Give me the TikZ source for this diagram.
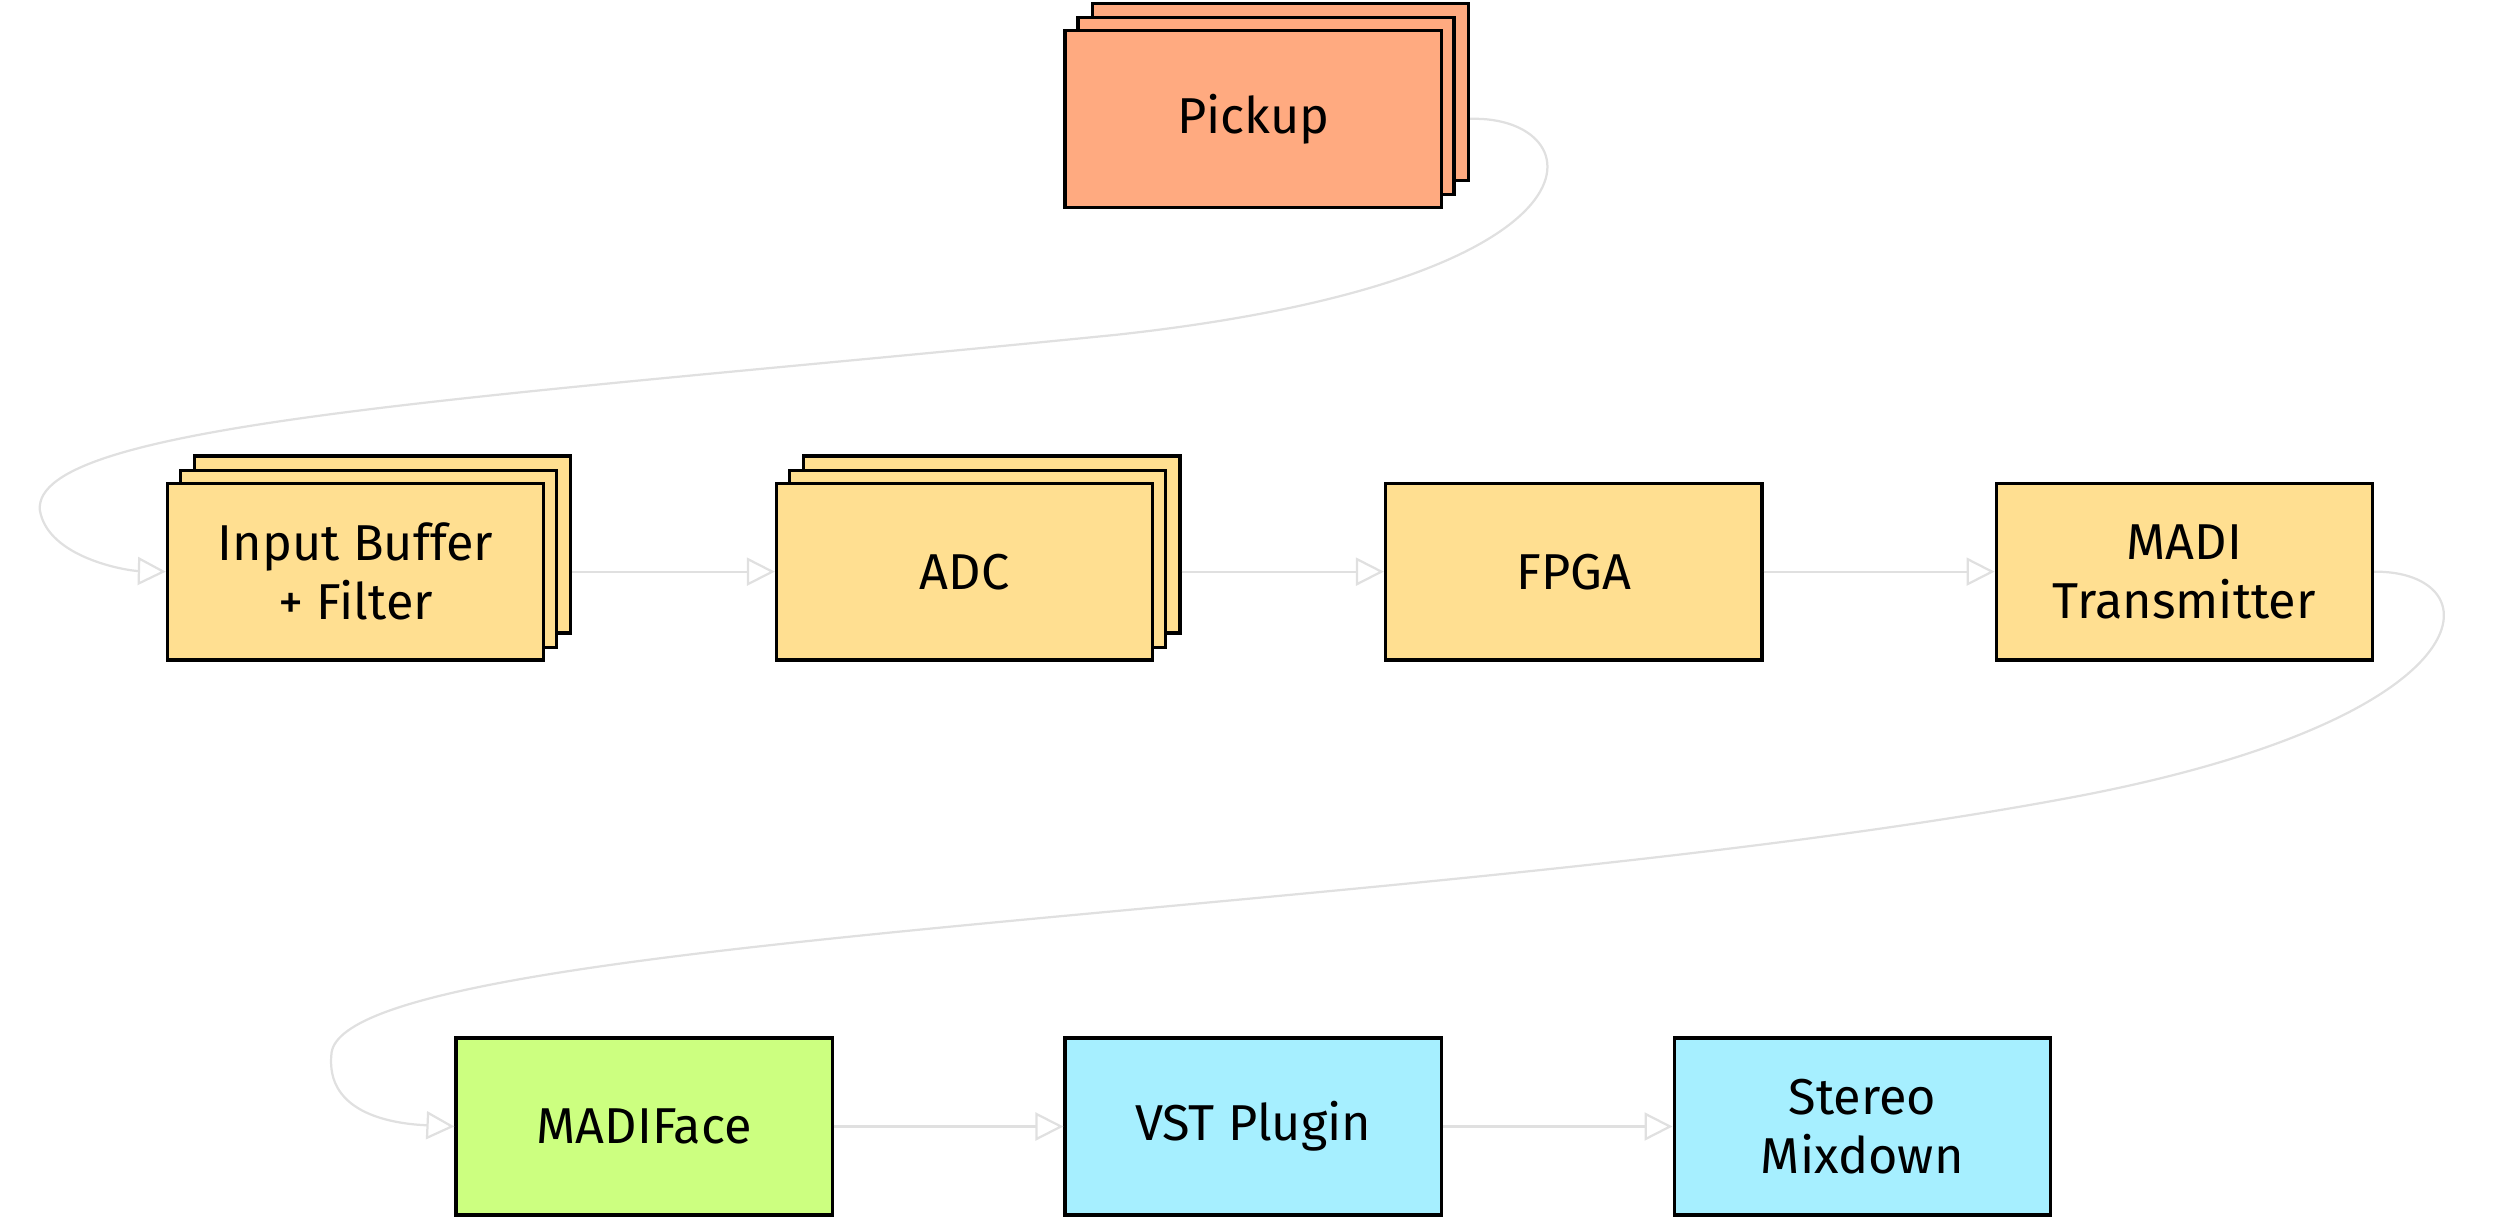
\documentclass[tikz,border=0pt]{standalone}
\usepackage{fontspec}
\setmainfont{Fira Sans}
\usetikzlibrary{arrows.meta}
\begin{document}
\begin{tikzpicture}[x=0.02cm,y=-0.02cm,
  box/.style={draw=black,line width=1.2pt,minimum width=4.72cm,minimum height=2.22cm,anchor=north west,align=center,font=\fontsize{18}{21}\selectfont,inner sep=0pt},
  conn/.style={draw=black!12,line width=0.8pt,-{Triangle[open,length=10pt,width=10pt]}}]
\useasboundingbox (0,0) rectangle (1568,763);
\definecolor{pk}{HTML}{FFAA80}\definecolor{ye}{HTML}{FFDF91}
\definecolor{gr}{HTML}{CCFF80}\definecolor{cy}{HTML}{A6EFFF}
% Pickup stack
\node[box,fill=pk] (pk3) at (684,1) {};
\node[box,fill=pk] (pk2) at (675,10) {};
\node[box,fill=pk] (pk) at (667,18) {Pickup};
\node[box,fill=ye] (ib3) at (121,285) {};
\node[box,fill=ye] (ib2) at (112,294) {};
\node[box,fill=ye] (ib) at (104,302) {Input Buffer\\+ Filter};
\node[box,fill=ye] (adc3) at (503,285) {};
\node[box,fill=ye] (adc2) at (494,294) {};
\node[box,fill=ye] (adc) at (486,302) {ADC};
\node[box,fill=ye] (fpga) at (868,302) {FPGA};
\node[box,fill=ye] (madi) at (1251,302) {MADI\\Transmitter};
\node[box,fill=gr] (mf) at (285,650) {MADIFace};
\node[box,fill=cy] (vst) at (667,650) {VST Plugin};
\node[box,fill=cy] (sm) at (1049,650) {Stereo\\Mixdown};
\draw[conn] (pk3.east |- pk.east) .. controls (1000,72) and (1020,175) .. (700,210)
  .. controls (300,250) and (20,265) .. (25,320) .. controls (30,350) and (80,358) .. (ib.west);
\draw[conn] (ib3.east |- ib.east) -- (adc.west);
\draw[conn] (adc3.east |- adc.east) -- (fpga.west);
\draw[conn] (fpga.east) -- (madi.west);
\draw[conn] (madi.east) .. controls (1565,358) and (1565,450) .. (1300,500)
  .. controls (900,575) and (220,585) .. (208,660) .. controls (203,700) and (250,705) .. (mf.west);
\draw[conn] (mf.east) -- (vst.west);
\draw[conn] (vst.east) -- (sm.west);
\end{tikzpicture}
\end{document}
